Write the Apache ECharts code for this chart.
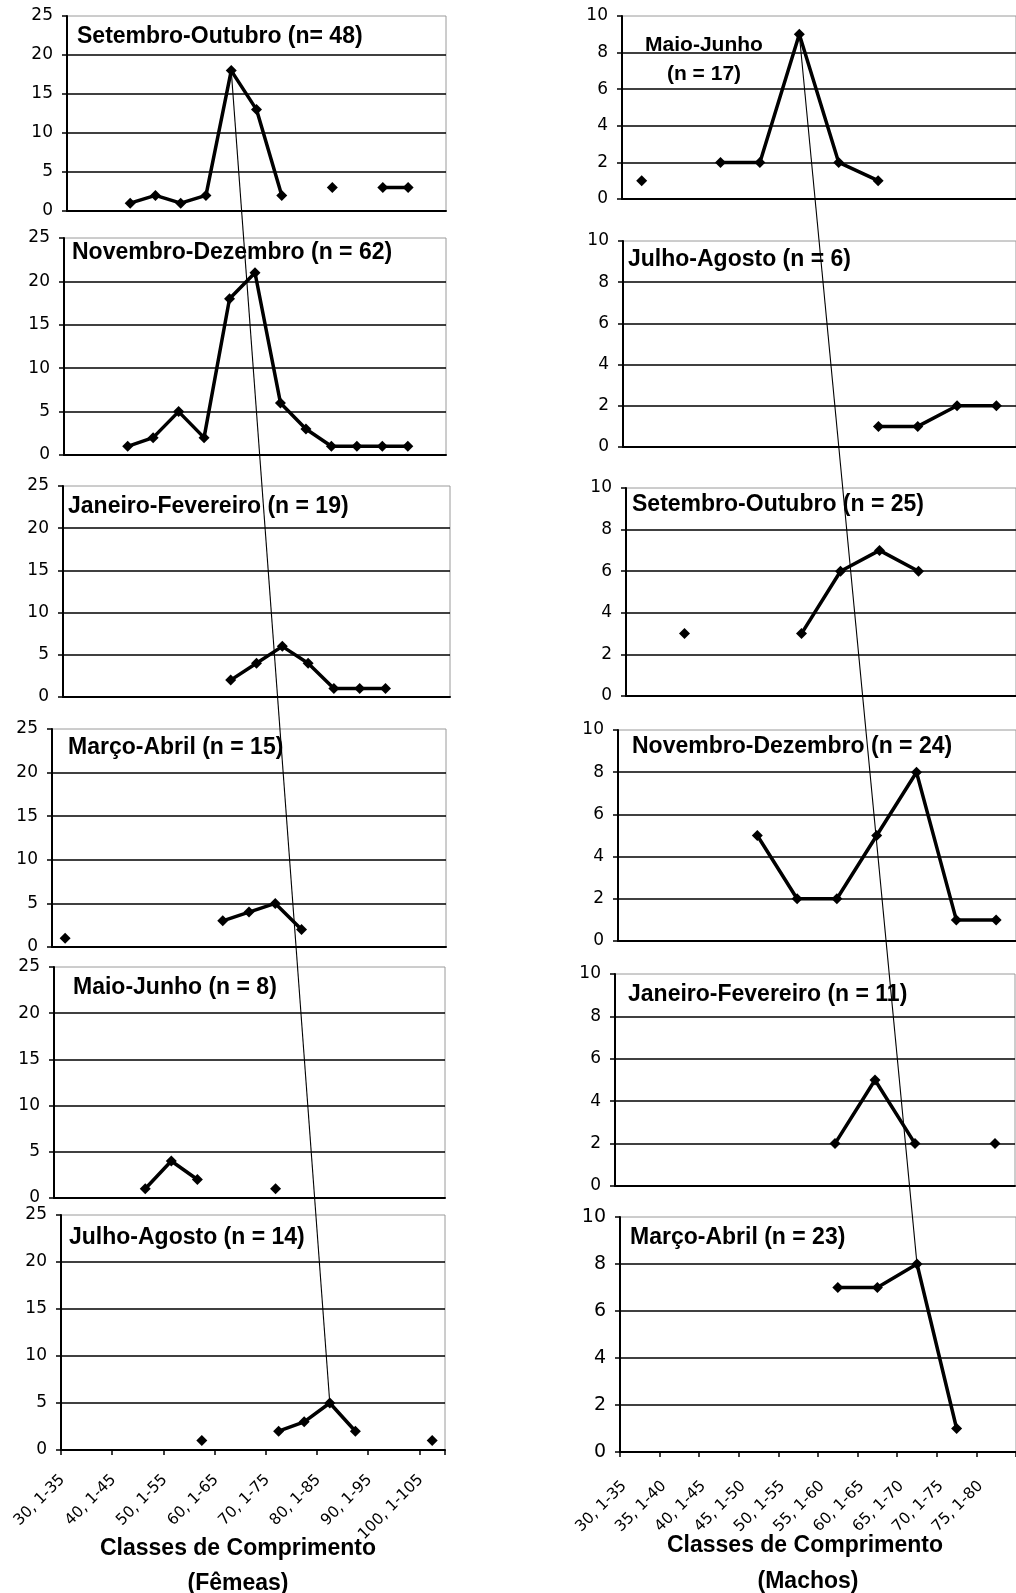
<!DOCTYPE html>
<html><head><meta charset="utf-8">
<script src="https://cdn.jsdelivr.net/npm/echarts@6/dist/echarts.min.js"></script>
<style>html,body{margin:0;padding:0;background:#fff}#c{width:1016px;height:1593px}</style>
</head><body><div id="c"></div>
<script>
// ---------- DATA ----------
const femaleClasses = ['30, 1-35','35, 1-40','40, 1-45','45, 1-50','50, 1-55','55, 1-60','60, 1-65','65, 1-70','70, 1-75','75, 1-80','80, 1-85','85, 1-90','90, 1-95','95, 1-100','100, 1-105'];
const maleClasses = ['30, 1-35','35, 1-40','40, 1-45','45, 1-50','50, 1-55','55, 1-60','60, 1-65','65, 1-70','70, 1-75','75, 1-80'];

const femaleTitles = ['Setembro-Outubro (n= 48)','Novembro-Dezembro (n = 62)','Janeiro-Fevereiro (n = 19)','Março-Abril (n = 15)','Maio-Junho (n = 8)','Julho-Agosto (n = 14)'];
const maleTitles = ['Maio-Junho\n(n = 17)','Julho-Agosto (n = 6)','Setembro-Outubro (n = 25)','Novembro-Dezembro (n = 24)','Janeiro-Fevereiro (n = 11)','Março-Abril (n = 23)'];

const fSetOut = [null,null,1,2,1,2,18,13,2,null,3,null,3,3,null];
const fNovDez = [null,null,1,2,5,2,18,21,6,3,1,1,1,1,null];
const fJanFev = [null,null,null,null,null,null,2,4,6,4,1,1,1,null,null];
const fMarAbr = [1,null,null,null,null,null,3,4,5,2,null,null,null,null,null];
const fMaiJun = [null,null,null,1,4,2,null,null,1,null,null,null,null,null,null];
const fJulAgo = [null,null,null,null,null,1,null,null,2,3,5,2,null,null,1];

const mMaiJun = [1,null,2,2,9,2,1,null,null,null];
const mJulAgo = [null,null,null,null,null,null,1,1,2,2];
const mSetOut = [null,3,null,null,3,6,7,6,null,null];
const mNovDez = [null,null,null,5,2,2,5,8,1,1];
const mJanFev = [null,null,null,null,null,2,5,2,null,2];
const mMarAbr = [null,null,null,null,null,7,7,8,1,null];

const femaleTicks = [0,5,10,15,20,25];
const maleTicks = [0,2,4,6,8,10];

const xTitle = 'Classes de Comprimento';
const femaleLabel = '(Fêmeas)';
const maleLabel = '(Machos)';

// ---------- LAYOUT ----------
const femaleSeries = [fSetOut,fNovDez,fJanFev,fMarAbr,fMaiJun,fJulAgo];
const maleSeries = [mMaiJun,mJulAgo,mSetOut,mNovDez,mJanFev,mMarAbr];
const femaleGrids = [[67,16,379,195],[64,238,382,217],[63,486,387,211],[52,729,394,218],[54,967,391,231],[61,1215,384,235]];
const maleGrids = [[622,16,400,183],[623,241,400,206],[626,488,400,208],[618,730,400,211],[615,974,400,212],[620,1217,400,235]];
const femaleTitlePos = [[77,37],[72,253],[68,507],[68,748],[73,988],[69,1238]];
const maleTitlePos = [[704,60],[628,260],[632,505],[632,747],[628,995],[630,1238]];

const NUM_FONT = '"DejaVu Sans", sans-serif';
const TITLE_FONT = '"Liberation Sans", Arial, sans-serif';

const grids = [], xAxes = [], yAxes = [], series = [];

function addPanel(g, cats, data, ticks, isBottom, labelInterval, yFont, labelPad, labelMargin) {
  const i = grids.length;
  grids.push({left:g[0], top:g[1], width:g[2], height:g[3], show:true, borderColor:'#9a9a9a', borderWidth:1, backgroundColor:'transparent'});
  xAxes.push({
    type:'category', gridIndex:i, data:cats, boundaryGap:true,
    axisLine:{show:true, onZero:false, lineStyle:{color:'#000', width:2}},
    axisTick:{show:isBottom, length:5, lineStyle:{color:'#000', width:1.5}},
    axisLabel:{show:isBottom, interval:labelInterval, rotate:45, color:'#000', fontFamily:NUM_FONT, fontSize:15.5, margin:labelMargin, padding:[0,labelPad,0,0]},
    splitLine:{show:false}
  });
  const step = ticks[1]-ticks[0];
  const colors = ticks.map((t,k)=> k===ticks.length-1 ? 'rgba(0,0,0,0)' : '#000');
  yAxes.push({
    type:'value', gridIndex:i, min:ticks[0], max:ticks[ticks.length-1], interval:step,
    axisLine:{show:true, lineStyle:{color:'#000', width:2}},
    axisTick:{show:true, length:5, lineStyle:{color:'#000', width:1.5}},
    axisLabel:{color:'#000', fontFamily:NUM_FONT, fontSize:yFont, margin:14},
    splitLine:{show:true, lineStyle:{color:colors, width:1.6}}
  });
  series.push({
    type:'line', xAxisIndex:i, yAxisIndex:i, data:data, connectNulls:false,
    symbol:'diamond', symbolSize:11, showSymbol:true, showAllSymbol:true,
    itemStyle:{color:'#000'}, lineStyle:{color:'#000', width:3.5}, z:3
  });
}

femaleSeries.forEach((d,k)=> addPanel(femaleGrids[k], femaleClasses, d, femaleTicks, k===5, 1, 17, 16, 16));
maleSeries.forEach((d,k)=> addPanel(maleGrids[k], maleClasses, d, maleTicks, k===5, 0, k===5 ? 19 : 17, 22, 16));

const chart = echarts.init(document.getElementById('c'), null, {renderer:'canvas'});
chart.setOption({animation:false, backgroundColor:'#fff', grid:grids, xAxis:xAxes, yAxis:yAxes, series:series});

// ---------- TEXT + MODAL PROGRESSION LINES ----------
function argmax(a){ let bi=-1, bv=-Infinity; a.forEach((v,i)=>{ if(v!=null && v>bv){bv=v;bi=i;} }); return bi; }
function peakPixel(seriesIndex, arr){ const i = argmax(arr); return chart.convertToPixel({seriesIndex:seriesIndex}, [i, arr[i]]); }

const fA = peakPixel(0, fSetOut), fB = peakPixel(5, fJulAgo);
const mA = peakPixel(6, mMaiJun), mB = peakPixel(11, mMarAbr);

const elements = [];
femaleTitles.forEach((t,k)=> elements.push({type:'text', x:femaleTitlePos[k][0], y:femaleTitlePos[k][1], z:10,
  style:{text:t, fill:'#000', font:'bold 23px ' + TITLE_FONT, textAlign:'left', textVerticalAlign:'middle'}}));
maleTitles.forEach((t,k)=> elements.push({type:'text', x:maleTitlePos[k][0], y:maleTitlePos[k][1], z:10,
  style:{text:t, fill:'#000', font:(k===0?'bold 21px ':'bold 23px ') + TITLE_FONT, lineHeight:29,
         textAlign:k===0?'center':'left', textVerticalAlign:'middle'}}));
elements.push({type:'text', x:238, y:1549, style:{text:xTitle, fill:'#000', font:'bold 23px ' + TITLE_FONT, textAlign:'center', textVerticalAlign:'middle'}});
elements.push({type:'text', x:238, y:1584, style:{text:femaleLabel, fill:'#000', font:'bold 23px ' + TITLE_FONT, textAlign:'center', textVerticalAlign:'middle'}});
elements.push({type:'text', x:805, y:1546, style:{text:xTitle, fill:'#000', font:'bold 23px ' + TITLE_FONT, textAlign:'center', textVerticalAlign:'middle'}});
elements.push({type:'text', x:808, y:1582, style:{text:maleLabel, fill:'#000', font:'bold 23px ' + TITLE_FONT, textAlign:'center', textVerticalAlign:'middle'}});
elements.push({type:'line', z:20, shape:{x1:fA[0], y1:fA[1], x2:fB[0], y2:fB[1]}, style:{stroke:'#000', lineWidth:1.1}});
elements.push({type:'line', z:20, shape:{x1:mA[0], y1:mA[1], x2:mB[0], y2:mB[1]}, style:{stroke:'#000', lineWidth:1.1}});

chart.setOption({graphic:{elements:elements}});
</script>
</body></html>
